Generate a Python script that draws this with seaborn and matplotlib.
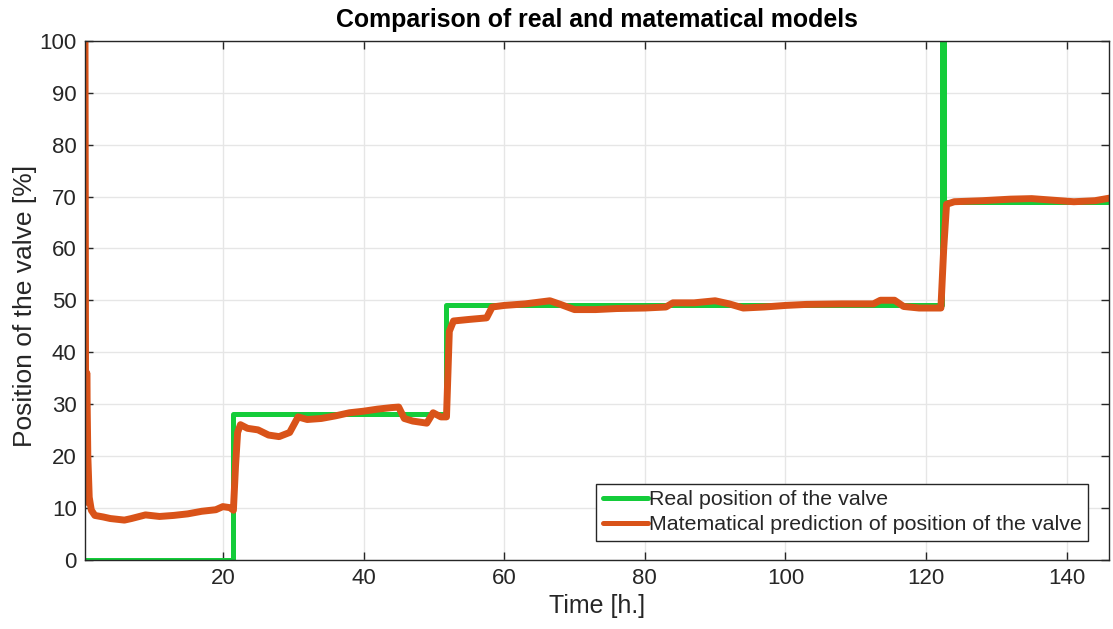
import matplotlib
matplotlib.use("Agg")
import matplotlib.pyplot as plt
import seaborn as sns
import pandas as pd

# ---- data ----
real_t = [0.4, 21.4, 51.8, 122.2, 122.5, 146.5]
real_v = [0, 28, 49, 105, 69, 69]

model_t = [0.40, 0.45, 0.50, 0.65, 0.80, 1.0, 1.3, 1.8, 3, 4, 6, 7, 9, 11, 13, 15, 17, 19, 20, 21,
           21.5, 21.8, 22.1, 22.5, 23.5, 25, 26.5, 28, 29.5, 30.7, 32, 34, 36, 38, 40, 42, 44, 45,
           45.8, 47, 49, 49.9, 51, 51.8, 52.2, 52.8, 55, 57.5, 58.3, 60, 63, 66.5, 68, 70, 73, 76,
           80, 83, 84, 87, 90, 92, 94, 97, 100, 103, 108, 112.5, 113.5, 115.5, 116.8, 119, 122.1,
           122.5, 122.9, 124, 128, 132, 135, 138, 141, 144, 146.5]
model_v = [101, 60, 11, 36, 20, 12, 9.5, 8.5, 8.2, 7.9, 7.6, 7.9, 8.6, 8.3, 8.5, 8.8, 9.3, 9.6, 10.2, 10,
           9.5, 18, 24.5, 26, 25.3, 25, 24, 23.7, 24.5, 27.5, 27, 27.2, 27.7, 28.3, 28.6, 29, 29.3, 29.4,
           27.2, 26.7, 26.3, 28.3, 27.5, 27.5, 44, 46, 46.3, 46.6, 48.7, 49, 49.3, 49.9, 49.2, 48.2, 48.2, 48.4,
           48.5, 48.7, 49.5, 49.5, 49.9, 49.3, 48.5, 48.7, 49, 49.2, 49.3, 49.3, 50, 50, 48.8, 48.5, 48.5,
           60, 68.5, 69, 69.2, 69.5, 69.6, 69.3, 69, 69.2, 69.8]

x_ticks = [20, 40, 60, 80, 100, 120, 140]
y_ticks = [0, 10, 20, 30, 40, 50, 60, 70, 80, 90, 100]

title = "Comparison of real and matematical models"
label_real = "Real position of the valve"
label_model = "Matematical prediction of position of the valve"

# ---- style ----
sns.set_style("ticks")
plt.rcParams['font.family'] = ['Liberation Sans', 'DejaVu Sans']
dark = "#262626"

fig = plt.figure(figsize=(11.13, 6.29), dpi=100)
ax = fig.add_axes([85/1113, 1 - 559.5/629, (1109-85)/1113, (559.5-41)/629])

df_real = pd.DataFrame({"t": real_t, "v": real_v})
df_model = pd.DataFrame({"t": model_t, "v": model_v})

sns.lineplot(data=df_real, x="t", y="v", ax=ax, color="#14CC3A", linewidth=3.6,
             drawstyle="steps-post", estimator=None, sort=False, label=label_real)
sns.lineplot(data=df_model, x="t", y="v", ax=ax, color="#D95319", linewidth=5.0,
             estimator=None, sort=False, label=label_model)

ax.set_xlim(0.4, 146)
ax.set_ylim(0, 100)
ax.set_xticks(x_ticks)
ax.set_yticks(y_ticks)
ax.grid(True, color="#E6E6E6", linewidth=1.0)
ax.set_axisbelow(True)
for s in ax.spines.values():
    s.set_visible(True)
    s.set_color(dark)
    s.set_linewidth(1.0)
ax.tick_params(direction="in", top=True, right=True, length=6, width=1.0,
               colors=dark, labelsize=16, labelcolor=dark, pad=6)

ax.set_xlabel("Time [h.]", fontsize=18, color=dark, labelpad=4)
ax.set_ylabel("Position of the valve [%]", fontsize=19, color=dark, labelpad=2)
ax.yaxis.label.set_y(0.489)
ax.set_title(title, fontsize=17.9, fontweight="bold", color="black", pad=10)

leg = ax.legend(loc="lower right", bbox_to_anchor=(0.9795, 0.036), borderaxespad=0,
                fontsize=15.4, frameon=True, fancybox=False, handlelength=2.1,
                handletextpad=0.05, borderpad=0.3, labelspacing=0.3)
leg.get_frame().set_edgecolor(dark)
leg.get_frame().set_linewidth(1.0)
leg.get_frame().set_alpha(1)
for h in leg.get_lines():
    h.set_linewidth(3.6)

fig.savefig("out.png", dpi=100)
